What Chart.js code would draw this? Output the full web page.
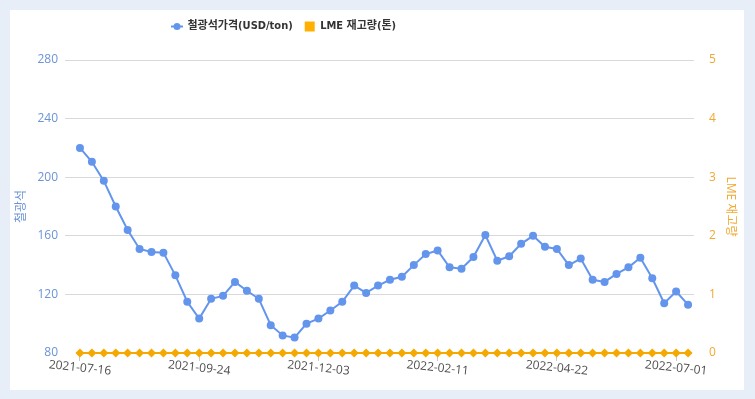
<!DOCTYPE html>
<html>
<head>
<meta charset="utf-8">
<script src="https://cdn.jsdelivr.net/npm/chart.js@4"></script>
<style>
  html, body { margin: 0; padding: 0; }
  body { width: 755px; height: 399px; background: #e7eef8; position: relative; overflow: hidden; }
  #panel { position: absolute; left: 10px; top: 10px; width: 734px; height: 380px; background: #fff; }
</style>
</head>
<body>
<div id="panel"><canvas id="ironChart" width="734" height="380"></canvas></div>
<script>
const dates = [
  '2021-07-16', '2021-07-23', '2021-07-30', '2021-08-06', '2021-08-13', '2021-08-20', '2021-08-27',
  '2021-09-03', '2021-09-10', '2021-09-17', '2021-09-24', '2021-10-01', '2021-10-08', '2021-10-15',
  '2021-10-22', '2021-10-29', '2021-11-05', '2021-11-12', '2021-11-19', '2021-11-26', '2021-12-03',
  '2021-12-10', '2021-12-17', '2021-12-24', '2021-12-31', '2022-01-07', '2022-01-14', '2022-01-21',
  '2022-01-28', '2022-02-04', '2022-02-11', '2022-02-18', '2022-02-25', '2022-03-04', '2022-03-11',
  '2022-03-18', '2022-03-25', '2022-04-01', '2022-04-08', '2022-04-15', '2022-04-22', '2022-04-29',
  '2022-05-06', '2022-05-13', '2022-05-20', '2022-05-27', '2022-06-03', '2022-06-10', '2022-06-17',
  '2022-06-24', '2022-07-01', '2022-07-08',
];

const orePrices = [
  220, 210.5, 197.5, 180, 164, 151, 149, 148.5, 133, 115, 103.5, 117, 119,
  128.5, 122.5, 117, 99, 92, 90.5, 100, 103.5, 109, 115, 126, 121, 126,
  130, 132, 140, 147.5, 150, 138.5, 137.5, 145.5, 160.5, 143, 146, 154.5, 160,
  152.5, 151, 140, 144.5, 130, 128.5, 134, 138.5, 145, 131, 114, 122, 113,
];

const lmeStock = [
  0, 0, 0, 0, 0, 0, 0, 0, 0, 0, 0, 0, 0,
  0, 0, 0, 0, 0, 0, 0, 0, 0, 0, 0, 0, 0,
  0, 0, 0, 0, 0, 0, 0, 0, 0, 0, 0, 0, 0,
  0, 0, 0, 0, 0, 0, 0, 0, 0, 0, 0, 0, 0,
];

const priceTicks = [80, 120, 160, 200, 240, 280];
const stockTicks = [0, 1, 2, 3, 4, 5];

const seriesNames = ['철광석가격(USD/ton)', 'LME 재고량(톤)'];
const axisTitles = ['철광석', 'LME 재고량'];

const FONT = "'Open Sans', 'Noto Sans CJK KR', sans-serif";
const LEGEND_FONT = "'Liberation Sans Narrow', 'DejaVu Sans Condensed', 'Noto Sans CJK KR', sans-serif";
const BLUE = '#6495ed';
const BLUE_TEXT = '#6b93d6';
const ORANGE = '#f5a800';
const ORANGE_TEXT = '#f0a830';
const GRID = '#d9d9d9';

Chart.defaults.font.family = FONT;

// line-with-dot icon for the first legend entry
function makeLineIcon() {
  const c = document.createElement('canvas');
  c.width = 12;
  c.height = 9;
  const g = c.getContext('2d');
  g.strokeStyle = BLUE;
  g.lineWidth = 2;
  g.beginPath();
  g.moveTo(0, 4.5);
  g.lineTo(12, 4.5);
  g.stroke();
  g.fillStyle = BLUE;
  g.beginPath();
  g.arc(6, 4.5, 3.5, 0, Math.PI * 2);
  g.fill();
  return c;
}

const lineIcon = makeLineIcon();

// x labels are slightly slanted downwards and centred on their tick
const slantedLabels = {
  id: 'slantedLabels',
  afterDraw(chart) {
    const scale = chart.scales.x;
    const ctx = chart.ctx;
    ctx.save();
    ctx.font = '12px ' + FONT;
    ctx.fillStyle = '#4d4d4d';
    ctx.textAlign = 'center';
    ctx.textBaseline = 'middle';
    for (let i = 0; i < dates.length; i += 10) {
      ctx.save();
      ctx.translate(scale.getPixelForTick(i), scale.top + 15);
      ctx.rotate(6 * Math.PI / 180);
      ctx.fillText(dates[i], 0, 0);
      ctx.restore();
    }
    ctx.restore();
  },
};

// legend sits left of centre, close to the top edge
const legendPlace = {
  id: 'legendPlace',
  afterLayout(chart) {
    chart.legend.top = -1;
    chart.legend.left = 150;
  },
};

new Chart('ironChart', {
  type: 'line',
  data: {
    labels: dates,
    datasets: [
      {
        label: seriesNames[0],
        data: orePrices,
        yAxisID: 'y',
        borderColor: BLUE,
        backgroundColor: BLUE,
        borderWidth: 2,
        pointRadius: 4,
        pointBorderWidth: 0,
        fill: false,
        tension: 0,
      },
      {
        label: seriesNames[1],
        data: lmeStock,
        yAxisID: 'y1',
        borderColor: ORANGE,
        backgroundColor: ORANGE,
        borderWidth: 2,
        pointStyle: 'rectRot',
        pointRadius: 4.5,
        pointBorderWidth: 0,
        fill: false,
        tension: 0,
        clip: false,
      },
    ],
  },
  options: {
    responsive: false,
    animation: false,
    layout: {padding: {top: 17, left: 0, right: 0, bottom: 0}},
    plugins: {
      legend: {
        align: 'start',
        labels: {
          usePointStyle: true,
          boxWidth: 10,
          boxHeight: 10,
          padding: 12,
          color: '#333',
          font: {size: 11, weight: 'bold', family: LEGEND_FONT},
          generateLabels(chart) {
            const items = Chart.defaults.plugins.legend.labels.generateLabels(chart);
            items[0].pointStyle = lineIcon;
            items[1].pointStyle = 'rect';
            items[1].fillStyle = '#ffb000';
            items[1].lineWidth = 0;
            return items;
          },
        },
      },
      tooltip: {enabled: false},
    },
    scales: {
      x: {
        offset: true,
        border: {display: false},
        grid: {
          drawOnChartArea: false,
          tickLength: 8,
          color: (ctx) => (ctx.index % 10 === 0 ? '#c8c8c8' : 'transparent'),
        },
        ticks: {display: false},
        afterFit(scale) { scale.height = 37; },
      },
      y: {
        position: 'left',
        min: priceTicks[0],
        max: priceTicks[priceTicks.length - 1],
        afterBuildTicks(scale) { scale.ticks = priceTicks.map((v) => ({value: v})); },
        border: {display: false},
        grid: {
          tickLength: 9,
          color: (ctx) => (ctx.index === 0 ? 'transparent' : GRID),
        },
        ticks: {color: BLUE_TEXT, padding: 7, font: {size: 12}},
        title: {display: true, text: axisTitles[0], color: BLUE_TEXT, font: {size: 12}},
        afterFit(scale) { scale.width = 64; },
      },
      y1: {
        position: 'right',
        min: stockTicks[0],
        max: stockTicks[stockTicks.length - 1],
        afterBuildTicks(scale) { scale.ticks = stockTicks.map((v) => ({value: v})); },
        border: {display: false},
        grid: {drawOnChartArea: false, drawTicks: false},
        ticks: {color: ORANGE_TEXT, padding: 15, font: {size: 12}},
        title: {display: true, text: axisTitles[1], color: ORANGE_TEXT, font: {size: 12}, padding: {top: 6}},
        afterFit(scale) { scale.width = 50; },
      },
    },
  },
  plugins: [slantedLabels, legendPlace],
});
</script>
</body>
</html>
